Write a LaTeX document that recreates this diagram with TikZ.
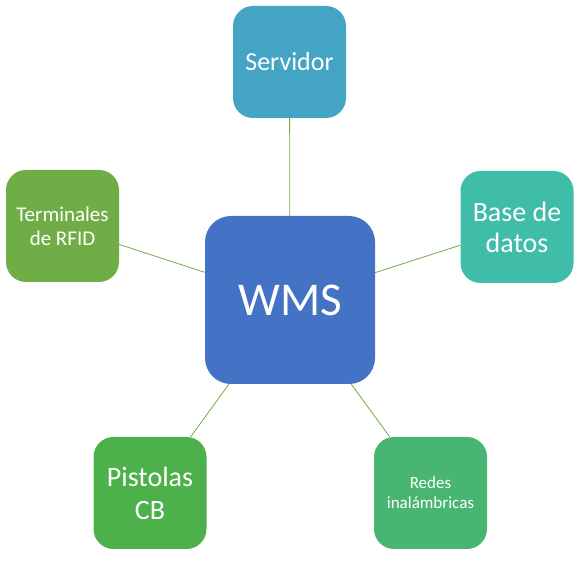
\documentclass[tikz,border=0pt]{standalone}
\usepackage{fontspec}
\setmainfont{Carlito}
\usetikzlibrary{positioning}

\definecolor{wmsblue}{RGB}{68,114,196}
\definecolor{srvblue}{RGB}{67,165,195}
\definecolor{dbteal}{RGB}{64,189,168}
\definecolor{rfidgreen}{RGB}{112,173,71}
\definecolor{cbgreen}{RGB}{76,177,74}
\definecolor{netgreen}{RGB}{72,181,115}
\definecolor{linkgreen}{RGB}{112,173,71}

\begin{document}
\begin{tikzpicture}[x=1pt, y=-1pt,
    box/.style={rounded corners=20pt, minimum width=113pt, minimum height=112pt,
        inner sep=2pt, align=center, text=white},
    link/.style={draw=linkgreen, line width=0.8pt}]
    \useasboundingbox (0,0) rectangle (582,569);

    % Hub
    \node[box, fill=wmsblue, rounded corners=26pt, minimum width=170pt, minimum height=168pt,
        font=\fontsize{47}{52}\selectfont] (wms) at (290,300) {WMS};

    % Satellites
    \node[box, fill=srvblue, font=\fontsize{26}{30}\selectfont] (srv) at (289.5,62) {Servidor};
    \node[box, fill=dbteal, font=\fontsize{28}{31}\selectfont] (db) at (517,227) {Base de\\datos};
    \node[box, fill=rfidgreen, font=\fontsize{21}{24}\selectfont] (rfid) at (62.5,226) {Terminales\\de RFID};
    \node[box, fill=cbgreen, font=\fontsize{28}{33}\selectfont] (cb) at (150,493) {Pistolas\\CB};
    \node[box, fill=netgreen, font=\fontsize{17}{20}\selectfont] (net) at (430.5,493) {Redes\\inalámbricas};

    % Links
    \foreach \n in {srv,db,rfid,cb,net}
        \draw[link] (wms) -- (\n);
\end{tikzpicture}
\end{document}
